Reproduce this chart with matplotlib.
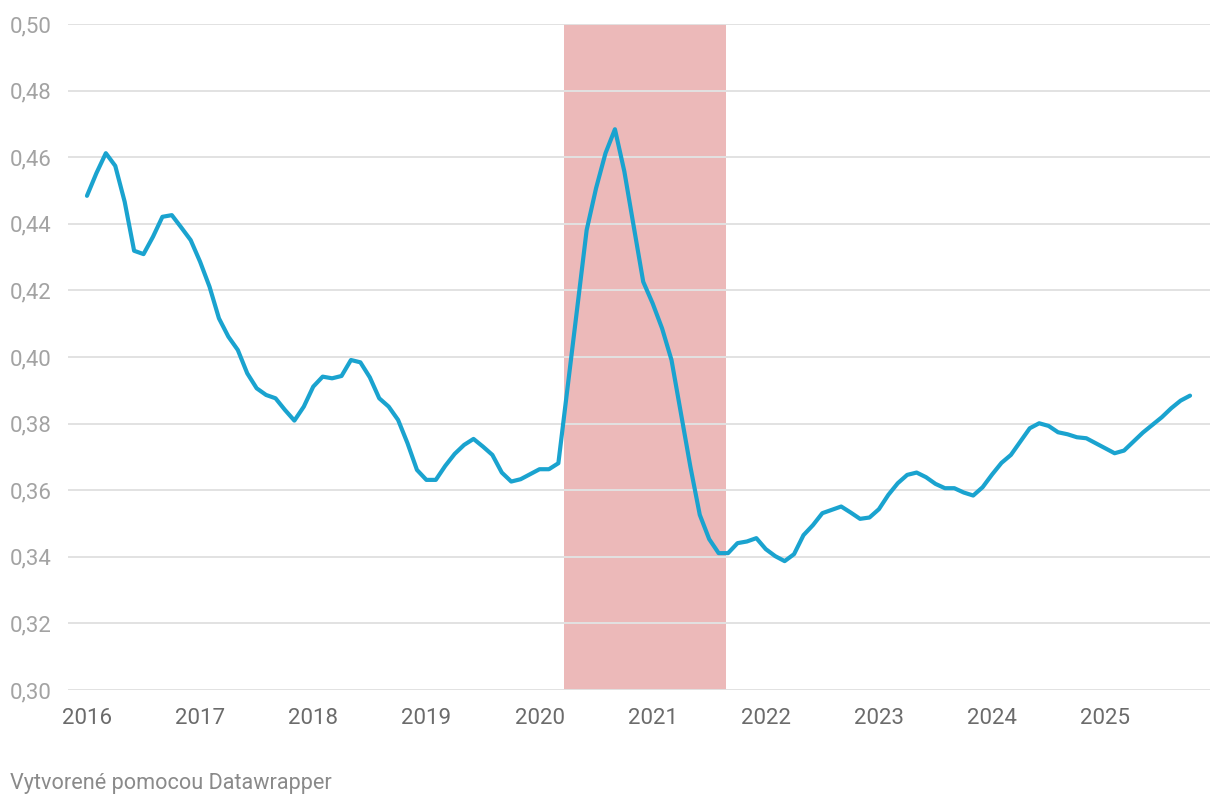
import matplotlib
matplotlib.use('Agg')
import matplotlib.pyplot as plt
import numpy as np
import pandas as pd

plt.rcParams['font.family'] = ['Roboto', 'DejaVu Sans']

# monthly values, Jan 2016 .. Oct 2025
values = [
    0.4484, 0.4552, 0.4612, 0.4574, 0.4466, 0.4319, 0.4309, 0.4361, 0.4421, 0.4426, 0.4389, 0.4351,
    0.4286, 0.4211, 0.4116, 0.4061, 0.4021, 0.3951, 0.3906, 0.3886, 0.3876, 0.3841, 0.3809, 0.3851,
    0.3911, 0.3941, 0.3936, 0.3943, 0.3991, 0.3984, 0.3939, 0.3876, 0.3851, 0.3811, 0.3741, 0.3661,
    0.3631, 0.3631, 0.3673, 0.3709, 0.3736, 0.3754, 0.3731, 0.3706, 0.3653, 0.3626, 0.3633, 0.3648,
    0.3663, 0.3663, 0.3681, 0.3914, 0.4147, 0.4381, 0.4507, 0.4612, 0.4684, 0.4557, 0.4391, 0.4226,
    0.4161, 0.4086, 0.3991, 0.3831, 0.3671, 0.3526, 0.3453, 0.3411, 0.3411, 0.3441, 0.3446, 0.3456,
    0.3423, 0.3402, 0.3387, 0.3408, 0.3465, 0.3495, 0.3531, 0.3541, 0.3551, 0.3533, 0.3514, 0.3518,
    0.3543, 0.3586, 0.3621, 0.3646, 0.3653, 0.3639, 0.3619, 0.3606, 0.3606, 0.3593, 0.3584, 0.3609,
    0.3647, 0.3682, 0.3706, 0.3746, 0.3786, 0.3801, 0.3793, 0.3774, 0.3768, 0.3759, 0.3756, 0.3741,
    0.3726, 0.3711, 0.3719, 0.3746, 0.3773, 0.3796, 0.3819, 0.3846, 0.3869, 0.3884,
]
dates = pd.date_range('2016-01-01', periods=len(values), freq='MS')
x = dates.year + (dates.month - 1) / 12.0

shade_start = 2020.218
shade_end = 2021.648

year_ticks = list(range(2016, 2026))
y_ticks = [0.30, 0.32, 0.34, 0.36, 0.38, 0.40, 0.42, 0.44, 0.46, 0.48, 0.50]

fig = plt.figure(figsize=(12.2, 8.06), dpi=100)
ax = fig.add_axes([68 / 1220, 1 - 690 / 806, (1210 - 68) / 1220, (690 - 24) / 806])

ax.axvspan(shade_start, shade_end, color='#ecb9b9', zorder=0.5, lw=0)
for yv in y_ticks:
    ax.axhline(yv, color='#e2e2e2', lw=1.4, zorder=1)
ax.plot(x, values, color='#1aa3cf', lw=3.0, zorder=3,
        solid_joinstyle='round', solid_capstyle='round')

ax.set_xlim(2016 - 19 / 113.3, 2025.75 + 20 / 113.3)
ax.set_ylim(0.30, 0.50)

for s in ax.spines.values():
    s.set_visible(False)

ax.set_yticks(y_ticks)
ax.set_yticklabels([f'{v:.2f}'.replace('.', ',') for v in y_ticks])
ax.tick_params(axis='y', length=0, pad=58 / 100 * 72, labelsize=16, labelcolor='#a3a3a3')
for lab in ax.get_yticklabels():
    lab.set_horizontalalignment('left')

ax.set_xticks(year_ticks)
ax.set_xticklabels([str(y) for y in year_ticks])
ax.tick_params(axis='x', length=0, pad=13, labelsize=16, labelcolor='#6b6b6b')

fig.text(10 / 1220, 1 - 783 / 806, 'Vytvorené pomocou Datawrapper', fontsize=15.6,
         color='#8a8a8a', ha='left', va='center')

fig.savefig('out.png', dpi=100, facecolor='white')
